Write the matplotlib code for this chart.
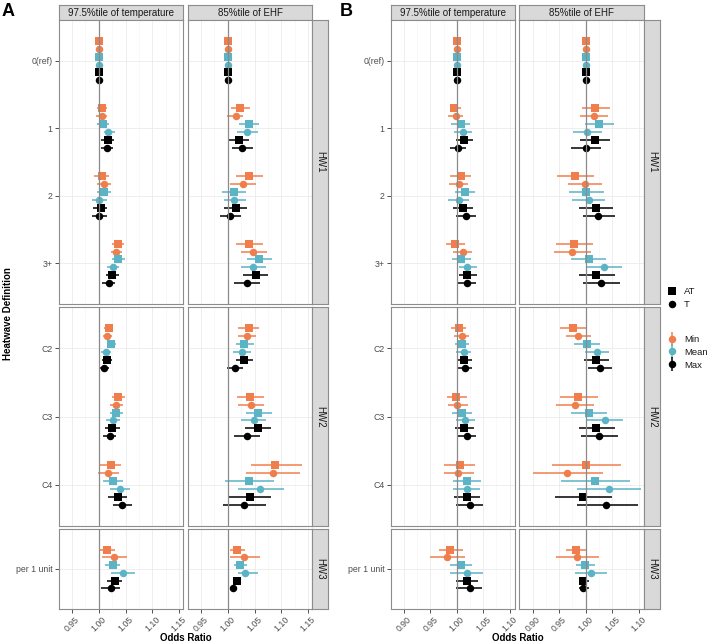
import matplotlib
matplotlib.use("Agg")
import matplotlib.pyplot as plt
import numpy as np
from matplotlib.lines import Line2D
from matplotlib.legend_handler import HandlerTuple

plt.rcParams['font.family'] = ['Liberation Sans', 'DejaVu Sans']

# ---------------- data ----------------
categories = ["0(ref)", "1", "2", "3+", "C2", "C3", "C4", "per 1 unit"]
groups = ["HW1", "HW1", "HW1", "HW1", "HW2", "HW2", "HW2", "HW3"]
facet_titles = ["97.5%tile of temperature", "85%tile of EHF"]
series_stat = ["Min", "Min", "Mean", "Mean", "Max", "Max"]
series_type = ["AT", "T", "AT", "T", "AT", "T"]
xticks_A = [0.95, 1.00, 1.05, 1.10, 1.15]
xticks_B = [0.90, 0.95, 1.00, 1.05, 1.10]

# rows = categories, columns = series (Min AT, Min T, Mean AT, Mean T, Max AT, Max T)
A_temp_est = [[1, 1, 1, 1, 1, 1],
              [1.006, 1.006, 1.0075, 1.018, 1.017, 1.015],
              [1.006, 1.009, 1.009, 1.0006, 1.004, 1.001],
              [1.035, 1.033, 1.036, 1.027, 1.025, 1.0185],
              [1.0185, 1.016, 1.023, 1.0127, 1.015, 1.010],
              [1.035, 1.033, 1.032, 1.026, 1.025, 1.020],
              [1.022, 1.017, 1.0266, 1.040, 1.035, 1.043],
              [1.016, 1.029, 1.0266, 1.0445, 1.0295, 1.0226]]
A_temp_lo = [[1, 1, 1, 1, 1, 1],
             [0.9965, 0.994, 0.996, 1.009, 1.005, 1.005],
             [0.991, 0.996, 0.996, 0.987, 0.990, 0.988],
             [1.024, 1.022, 1.025, 1.016, 1.013, 1.006],
             [1.010, 1.0075, 1.0145, 1.0035, 1.006, 1.0006],
             [1.024, 1.021, 1.021, 1.013, 1.012, 1.0075],
             [1.003, 0.998, 1.008, 1.021, 1.017, 1.026],
             [1.0006, 1.006, 1.012, 1.0226, 1.0156, 1.005]]
A_temp_hi = [[1, 1, 1, 1, 1, 1],
             [1.016, 1.016, 1.019, 1.0295, 1.028, 1.026],
             [1.0185, 1.022, 1.022, 1.0145, 1.016, 1.0145],
             [1.047, 1.044, 1.049, 1.038, 1.038, 1.031],
             [1.0266, 1.024, 1.032, 1.0226, 1.024, 1.0197],
             [1.049, 1.046, 1.0446, 1.039, 1.039, 1.033],
             [1.042, 1.037, 1.045, 1.058, 1.053, 1.062],
             [1.031, 1.053, 1.0405, 1.067, 1.044, 1.039]]

A_ehf_est = [[1, 1, 1, 1, 1, 1],
             [1.023, 1.015, 1.039, 1.036, 1.020, 1.027],
             [1.040, 1.028, 1.012, 1.012, 1.0145, 1.005],
             [1.040, 1.048, 1.0585, 1.047, 1.053, 1.036],
             [1.039, 1.036, 1.0307, 1.027, 1.031, 1.0133],
             [1.042, 1.044, 1.057, 1.0486, 1.056, 1.036],
             [1.089, 1.0845, 1.039, 1.061, 1.042, 1.0295],
             [1.018, 1.0307, 1.0226, 1.032, 1.0168, 1.009]]
A_ehf_lo = [[1, 1, 1, 1, 1, 1],
            [1.006, 0.998, 1.021, 1.017, 1.001, 1.008],
            [1.015, 1.005, 0.989, 0.992, 0.993, 0.985],
            [1.015, 1.024, 1.035, 1.024, 1.029, 1.012],
            [1.0197, 1.0185, 1.0145, 1.0104, 1.0156, 0.998],
            [1.018, 1.019, 1.034, 1.0255, 1.032, 1.012],
            [1.043, 1.034, 0.995, 1.019, 1.0023, 0.991],
            [1.004, 1.0035, 1.012, 1.019, 1.0104, 1.0046]]
A_ehf_hi = [[1, 1, 1, 1, 1, 1],
            [1.042, 1.028, 1.058, 1.057, 1.039, 1.047],
            [1.065, 1.052, 1.034, 1.034, 1.036, 1.025],
            [1.065, 1.074, 1.083, 1.072, 1.076, 1.061],
            [1.058, 1.053, 1.0486, 1.044, 1.048, 1.029],
            [1.068, 1.067, 1.082, 1.072, 1.080, 1.061],
            [1.138, 1.135, 1.086, 1.105, 1.0816, 1.072],
            [1.032, 1.0596, 1.0365, 1.0556, 1.0237, 1.0145]]

B_temp_est = [[1, 1, 1, 1, 1, 1],
              [0.9942, 0.9977, 1.007, 1.012, 1.014, 1.0029],
              [1.0075, 1.004, 1.0156, 1.004, 1.012, 1.0174],
              [0.996, 1.011, 1.007, 1.020, 1.020, 1.0185],
              [1.0035, 1.0093, 1.0098, 1.0127, 1.0133, 1.0156],
              [0.9994, 1.0006, 1.0098, 1.0156, 1.0145, 1.0185],
              [1.0052, 1.0029, 1.0185, 1.0185, 1.0185, 1.0255],
              [0.9878, 0.981, 1.008, 1.0185, 1.0185, 1.0243]]
B_temp_lo = [[1, 1, 1, 1, 1, 1],
             [0.9878, 0.983, 0.9896, 0.9954, 0.9977, 0.9878],
             [0.9878, 0.985, 0.9965, 0.9838, 0.9925, 0.9977],
             [0.9797, 0.9936, 0.990, 1.004, 1.0035, 1.0006],
             [0.9896, 0.9954, 0.9965, 0.9988, 1.000, 1.0017],
             [0.981, 0.983, 0.9913, 0.9977, 0.9965, 1.0006],
             [0.9757, 0.9757, 0.993, 0.993, 0.9948, 0.9994],
             [0.9664, 0.949, 0.9878, 0.9878, 0.9977, 0.9988]]
B_temp_hi = [[1, 1, 1, 1, 1, 1],
             [1.0087, 1.012, 1.0243, 1.029, 1.0307, 1.0168],
             [1.0266, 1.022, 1.035, 1.0237, 1.031, 1.037],
             [1.0156, 1.0295, 1.026, 1.038, 1.038, 1.036],
             [1.018, 1.0226, 1.0237, 1.027, 1.0278, 1.0295],
             [1.019, 1.021, 1.028, 1.0336, 1.0324, 1.037],
             [1.034, 1.0324, 1.0463, 1.0446, 1.0446, 1.050],
             [1.011, 1.0156, 1.029, 1.050, 1.040, 1.0475]]

B_ehf_est = [[1, 1, 1, 1, 1, 1],
             [1.018, 1.0145, 1.0243, 1.0029, 1.0168, 1.0006],
             [0.979, 0.9977, 1.0012, 1.0058, 1.019, 1.0237],
             [0.978, 0.9745, 1.0058, 1.0347, 1.019, 1.029],
             [0.9763, 0.9855, 1.0017, 1.0208, 1.0197, 1.0272],
             [0.986, 0.979, 1.0064, 1.0359, 1.0197, 1.0243],
             [1.000, 0.9647, 1.0174, 1.0428, 0.9942, 1.038],
             [0.9815, 0.9832, 0.9988, 1.0104, 0.9942, 0.9948]]
B_ehf_lo = [[1, 1, 1, 1, 1, 1],
            [0.992, 0.989, 0.9977, 0.9757, 0.9896, 0.973],
            [0.945, 0.966, 0.968, 0.975, 0.988, 0.9954],
            [0.944, 0.941, 0.9728, 1.0012, 0.9867, 0.994],
            [0.952, 0.962, 0.978, 0.9983, 0.9965, 1.0046],
            [0.951, 0.944, 0.9728, 1.0017, 0.9867, 0.9907],
            [0.9363, 0.9005, 0.9537, 0.984, 0.942, 0.983],
            [0.962, 0.944, 0.9815, 0.9797, 0.9873, 0.9878]]
B_ehf_hi = [[1, 1, 1, 1, 1, 1],
            [1.0446, 1.041, 1.053, 1.030, 1.0457, 1.028],
            [1.0156, 1.031, 1.035, 1.037, 1.052, 1.054],
            [1.0127, 1.0098, 1.038, 1.068, 1.054, 1.064],
            [1.0006, 1.0098, 1.0266, 1.044, 1.0428, 1.0486],
            [1.0226, 1.0156, 1.040, 1.0694, 1.054, 1.060],
            [1.066, 1.0318, 1.0839, 1.104, 1.050, 1.098],
            [1.0006, 1.0243, 1.0174, 1.0405, 1.0058, 1.0052]]

# ---------------- styling ----------------
stat_colors = {"Min": "#F07E4C", "Mean": "#5BB4C6", "Max": "#000000"}
type_markers = {"AT": "s", "T": "o"}
W, H = 709, 642
fig = plt.figure(figsize=(W / 100, H / 100), dpi=100)


def box(x0, y0, x1, y1):
    return [x0 / W, 1 - y1 / H, (x1 - x0) / W, (y1 - y0) / H]


row_defs = [("HW1", 20, 304), ("HW2", 307, 526), ("HW3", 529, 609)]
panels = [
    dict(label="A", lx=2, cols=[(58.7, 183.3), (187.7, 312.3)], strip=(312.3, 327.5),
         xlim=(0.942, 1.158), ticks=xticks_A,
         data=[(A_temp_est, A_temp_lo, A_temp_hi), (A_ehf_est, A_ehf_lo, A_ehf_hi)]),
    dict(label="B", lx=340, cols=[(390.7, 515.0), (519.3, 644.3)], strip=(644.3, 660),
         xlim=(0.893, 1.110), ticks=xticks_B,
         data=[(B_temp_est, B_temp_lo, B_temp_hi), (B_ehf_est, B_ehf_lo, B_ehf_hi)]),
]

slot = 0.7 / 6
border_col = "#8C8C8C"
strip_fill = "#D9D9D9"
MS = 5.4

for p in panels:
    for ci, (cx0, cx1) in enumerate(p["cols"]):
        est_all, lo_all, hi_all = [np.array(a, dtype=float) for a in p["data"][ci]]
        # column strip
        sax = fig.add_axes(box(cx0, 5, cx1, 20))
        sax.set_facecolor(strip_fill)
        sax.set_xticks([]); sax.set_yticks([])
        for s in sax.spines.values():
            s.set_color(border_col); s.set_linewidth(0.8)
        sax.text(0.5, 0.5, facet_titles[ci], ha="center", va="center", fontsize=7,
                 color="#1A1A1A", transform=sax.transAxes)
        for ri, (gname, y0, y1) in enumerate(row_defs):
            idx = [k for k, g in enumerate(groups) if g == gname]
            n = len(idx)
            ax = fig.add_axes(box(cx0, y0, cx1, y1))
            ax.set_xlim(*p["xlim"])
            ax.set_ylim(n - 1 + 0.6, -0.6)
            ax.set_xticks(p["ticks"])
            ax.set_xticks([t + 0.025 for t in p["ticks"][:-1]] + [p["ticks"][0] - 0.025], minor=True)
            ax.set_yticks(range(n))
            ax.grid(which="major", color="#EBEBEB", lw=0.6, zorder=0)
            ax.grid(which="minor", axis="x", color="#F4F4F4", lw=0.4, zorder=0)
            ax.set_axisbelow(True)
            for s in ax.spines.values():
                s.set_color(border_col); s.set_linewidth(0.8)
            base = np.arange(n)
            for si in range(6):
                col = stat_colors[series_stat[si]]
                ys = base + (si - 2.5) * slot
                ax.hlines(ys, lo_all[idx, si], hi_all[idx, si], colors=col, lw=1.1, zorder=3)
                ax.plot(est_all[idx, si], ys, ls="none", marker=type_markers[series_type[si]],
                        ms=MS, mew=0, color=col, zorder=4)
            ax.axvline(1.0, color="#8A8A8A", lw=0.9, zorder=5)
            ax.tick_params(which="minor", length=0)
            ax.tick_params(which="major", length=2.8, width=0.6, color="#333333",
                           labelcolor="#4D4D4D", labelsize=6.3, pad=1.5)
            if ci == 0:
                ax.set_yticklabels([categories[k] for k in idx])
            else:
                ax.tick_params(axis="y", length=0, labelleft=False)
            if gname == "HW3":
                ax.set_xticklabels([f"{t:.2f}" for t in p["ticks"]], rotation=45,
                                   ha="center", va="top")
            else:
                ax.tick_params(axis="x", length=0, labelbottom=False)
            # row strip (right side)
            if ci == 1:
                rax = fig.add_axes(box(p["strip"][0], y0, p["strip"][1], y1))
                rax.set_facecolor(strip_fill)
                rax.set_xticks([]); rax.set_yticks([])
                for s in rax.spines.values():
                    s.set_color(border_col); s.set_linewidth(0.8)
                rax.text(0.5, 0.5, gname, ha="center", va="center", rotation=-90,
                         fontsize=7, color="#1A1A1A", transform=rax.transAxes)
    # panel label and x title
    fig.text(p["lx"] / W, 1 - 3 / H, p["label"], fontsize=13, fontweight="bold",
             ha="left", va="top")
    xc = (p["cols"][0][0] + p["cols"][1][1]) / 2
    fig.text(xc / W, 1 - 638 / H, "Odds Ratio", fontsize=7, fontweight="bold",
             ha="center", va="center")

fig.text(8 / W, 1 - 314 / H, "Heatwave Definition", fontsize=7, fontweight="bold",
         rotation=90, ha="center", va="center")

# legends
shape_handles = [Line2D([], [], ls="none", marker=type_markers[t], color="black", ms=MS, mew=0)
                 for t in ["AT", "T"]]
leg1 = fig.legend(shape_handles, ["AT", "T"], loc="upper left",
                  bbox_to_anchor=(667 / W, 1 - 287 / H), frameon=False, fontsize=6.8,
                  handlelength=1.0, handletextpad=0.8, labelspacing=0.45, borderpad=0,
                  borderaxespad=0)
color_handles = []
for st in ["Min", "Mean", "Max"]:
    c = stat_colors[st]
    color_handles.append((Line2D([], [], ls="none", marker="|", ms=10, mew=1.1, color=c),
                          Line2D([], [], ls="none", marker="o", ms=MS, mew=0, color=c)))
leg2 = fig.legend(color_handles, ["Min", "Mean", "Max"], loc="upper left",
                  bbox_to_anchor=(667 / W, 1 - 335 / H), frameon=False, fontsize=6.8,
                  handlelength=1.0, handletextpad=0.8, labelspacing=0.4, borderpad=0,
                  borderaxespad=0, handler_map={tuple: HandlerTuple(ndivide=1)})
for t in leg1.get_texts() + leg2.get_texts():
    t.set_color("#1A1A1A")

fig.savefig("out.png", dpi=100)
